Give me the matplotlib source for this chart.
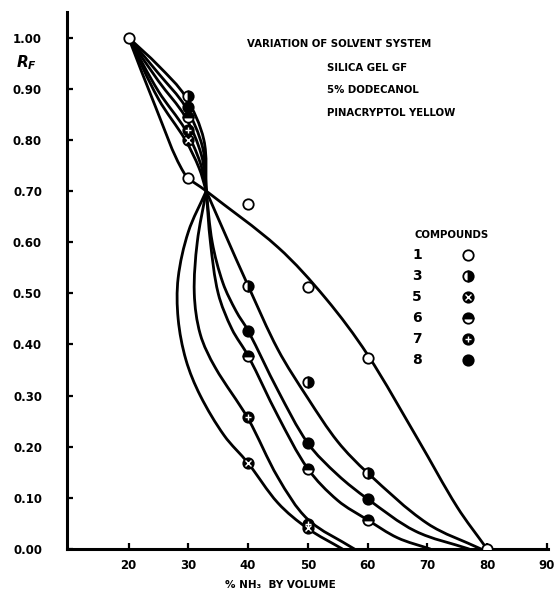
import numpy as np
import matplotlib
matplotlib.use("Agg")
import matplotlib.pyplot as plt
from matplotlib.path import Path
from matplotlib.patches import PathPatch

plt.rcParams['font.family'] = ['DejaVu Sans']
plt.rcParams['font.weight'] = 'bold'

# measured points (% NH3, Rf) per compound
c1_x = [20, 30, 40, 50, 60, 80]
c1_y = [1.00, 0.725, 0.675, 0.513, 0.374, 0.00]
c3_x = [30, 40, 50, 60]
c3_y = [0.885, 0.515, 0.327, 0.149]
c5_x = [30, 40, 50]
c5_y = [0.80, 0.168, 0.041]
c6_x = [30, 40, 50, 60]
c6_y = [0.845, 0.378, 0.157, 0.057]
c7_x = [30, 40, 50]
c7_y = [0.82, 0.258, 0.049]
c8_x = [30, 40, 50, 60]
c8_y = [0.865, 0.427, 0.207, 0.098]

# hand drawn curves, upper part (20% -> crossing point)
up1_x = [20, 24.5, 29.3, 33]
up1_y = [1.00, 0.865, 0.735, 0.70]
up3_x = [20, 25, 29.5, 32.6, 33]
up3_y = [1.00, 0.945, 0.885, 0.80, 0.70]
up8_x = [20, 25, 29.5, 32.4, 33]
up8_y = [1.00, 0.93, 0.865, 0.785, 0.70]
up6_x = [20, 25, 29.5, 32.2, 33]
up6_y = [1.00, 0.915, 0.845, 0.77, 0.70]
up7_x = [20, 25, 29.5, 32, 33]
up7_y = [1.00, 0.895, 0.82, 0.755, 0.70]
up5_x = [20, 25, 29.5, 31.8, 33]
up5_y = [1.00, 0.88, 0.80, 0.745, 0.70]

# lower part (crossing point -> Rf 0)
lo1_x = [33, 45, 53, 60, 68.5, 75, 80]
lo1_y = [0.70, 0.59, 0.49, 0.38, 0.213, 0.082, 0.00]
lo3_x = [33, 36, 40, 45, 50, 55, 60, 70, 79]
lo3_y = [0.70, 0.62, 0.515, 0.39, 0.295, 0.21, 0.149, 0.05, 0.00]
lo8_x = [33, 34.0, 35.8, 38, 40, 45, 50, 55, 60, 68, 77]
lo8_y = [0.70, 0.60, 0.52, 0.465, 0.427, 0.31, 0.207, 0.145, 0.098, 0.035, 0.00]
lo6_x = [33, 33.7, 35.0, 37.3, 40, 45, 50, 55, 60, 65, 70.5]
lo6_y = [0.70, 0.60, 0.50, 0.43, 0.378, 0.26, 0.157, 0.095, 0.057, 0.022, 0.00]
lo7_x = [33, 31.5, 31.0, 32.0, 34.5, 40, 45, 50, 57.8]
lo7_y = [0.70, 0.60, 0.50, 0.42, 0.355, 0.255, 0.14, 0.058, 0.00]
lo5_x = [33, 30.0, 28.3, 28.3, 29.6, 32, 36, 40, 45, 50, 55.8]
lo5_y = [0.70, 0.62, 0.53, 0.45, 0.37, 0.30, 0.222, 0.168, 0.09, 0.04, 0.00]

compounds = ['1', '3', '5', '6', '7', '8']
x_ticks = [20, 30, 40, 50, 60, 70, 80, 90]
y_ticks = [0.0, 0.1, 0.2, 0.3, 0.4, 0.5, 0.6, 0.7, 0.8, 0.9, 1.0]


def smooth_path(ax, xs, ys):
    # chord-length catmull-rom, built in display space, as bezier segments
    pts = ax.transData.transform(np.column_stack([xs, ys]).astype(float))
    n = len(pts)
    d = np.hypot(*np.diff(pts, axis=0).T)
    tan = np.zeros_like(pts)
    tan[0] = (pts[1] - pts[0]) / d[0]
    tan[-1] = (pts[-1] - pts[-2]) / d[-1]
    for i in range(1, n - 1):
        tan[i] = (pts[i + 1] - pts[i - 1]) / (d[i - 1] + d[i])
    verts = [pts[0]]
    codes = [Path.MOVETO]
    for i in range(n - 1):
        verts += [pts[i] + tan[i] * d[i] / 3, pts[i + 1] - tan[i + 1] * d[i] / 3,
                  pts[i + 1]]
        codes += [Path.CURVE4] * 3
    verts = ax.transData.inverted().transform(np.array(verts))
    return Path(verts, codes)


def draw_marker(ax, x, y, kind, **kw):
    base = dict(marker='o', ms=7.5, mew=1.3, mec='black', ls='none',
                zorder=5, **kw)
    if kind == '1':
        ax.plot(x, y, mfc='white', **base)
    elif kind == '3':
        ax.plot(x, y, fillstyle='right', mfc='black', mfcalt='white', **base)
    elif kind == '6':
        ax.plot(x, y, fillstyle='top', mfc='black', mfcalt='white', **base)
    elif kind == '8':
        ax.plot(x, y, mfc='black', **base)
    else:
        ax.plot(x, y, mfc='black', **base)
        sym = 'x' if kind == '5' else '+'
        ax.plot(x, y, marker=sym, ms=4.5, mew=1.0, color='white', ls='none',
                zorder=6, **kw)


fig = plt.figure(figsize=(5.57, 5.98), dpi=100)
ax = fig.add_axes([0.1203, 0.0819, 0.8636, 0.898])
ax.set_xlim(9.7, 90.2)
ax.set_ylim(0, 1.05)

uppers = [(up1_x, up1_y), (up3_x, up3_y), (up8_x, up8_y), (up6_x, up6_y),
          (up7_x, up7_y), (up5_x, up5_y)]
lowers = [(lo1_x, lo1_y), (lo3_x, lo3_y), (lo8_x, lo8_y), (lo6_x, lo6_y),
          (lo7_x, lo7_y), (lo5_x, lo5_y)]
for xs, ys in uppers + lowers:
    ax.add_patch(PathPatch(smooth_path(ax, xs, ys), fill=False, lw=2.0,
                           ec='black', capstyle='round', joinstyle='round'))

points = {'1': (c1_x, c1_y), '3': (c3_x, c3_y), '5': (c5_x, c5_y),
          '6': (c6_x, c6_y), '7': (c7_x, c7_y), '8': (c8_x, c8_y)}
for k, (xs, ys) in points.items():
    draw_marker(ax, xs, ys, k)

ax.set_xticks(x_ticks)
ax.set_yticks(y_ticks)
ax.set_xticklabels([str(v) for v in x_ticks])
ax.set_yticklabels(['%.2f' % v for v in y_ticks])
for s in ['top', 'right']:
    ax.spines[s].set_visible(False)
for s in ['left', 'bottom']:
    ax.spines[s].set_linewidth(2.2)
ax.tick_params(axis='both', direction='in', length=4, width=1.6,
               labelsize=8.5)
ax.tick_params(axis='y', pad=18)
ax.tick_params(axis='x', pad=7)

ax.text(-0.085, 0.905, '$R_F$', transform=ax.transAxes, fontsize=11,
        ha='center', va='center')
fig.text(0.504, 0.013, '% NH\u2083  BY VOLUME', ha='center', va='bottom',
         fontsize=7.5)

ax.text(0.374, 0.94, 'VARIATION OF SOLVENT SYSTEM', transform=ax.transAxes,
        fontsize=7.3, va='center')
ax.text(0.541, 0.896, 'SILICA GEL GF', transform=ax.transAxes,
        fontsize=7.3, va='center')
ax.text(0.541, 0.855, '5% DODECANOL', transform=ax.transAxes,
        fontsize=7.3, va='center')
ax.text(0.541, 0.812, 'PINACRYPTOL YELLOW', transform=ax.transAxes,
        fontsize=7.3, va='center')

ax.text(0.723, 0.585, 'COMPOUNDS', transform=ax.transAxes, fontsize=7.3,
        va='center')
for i, k in enumerate(compounds):
    yy = 0.5475 - i * 0.0391
    ax.text(0.728, yy, k, transform=ax.transAxes, fontsize=10,
            ha='center', va='center')
    draw_marker(ax, [0.834], [yy], k, transform=ax.transAxes, clip_on=False)

fig.savefig('out.png', dpi=100)
